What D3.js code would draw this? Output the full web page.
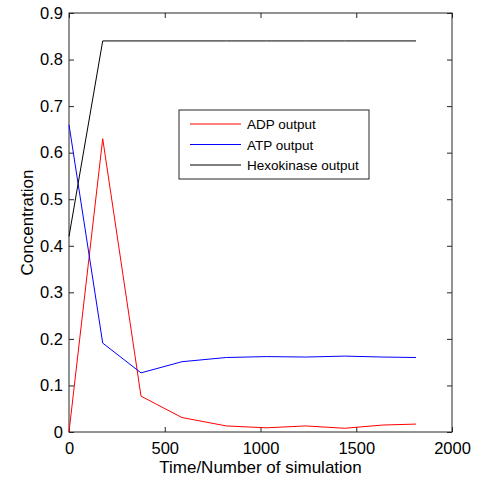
<!DOCTYPE html>
<html>
<head>
<meta charset="utf-8">
<script src="https://cdn.jsdelivr.net/npm/d3@7"></script>
<style>
  body { margin: 0; background: #fff; }
  text { font-family: "Liberation Sans", Arial, sans-serif; }
</style>
</head>
<body>
<script>
// Chart data
var times = [0, 176, 376, 590, 822, 1030, 1236, 1440, 1640, 1812];
var adp = [0, 0.63, 0.077, 0.031, 0.013, 0.009, 0.013, 0.008, 0.015, 0.017];
var atp = [0.66, 0.191, 0.127, 0.151, 0.160, 0.162, 0.161, 0.163, 0.161, 0.160];
var hexokinase = [0.42, 0.84, 0.84, 0.84, 0.84, 0.84, 0.84, 0.84, 0.84, 0.84];

var seriesNames = ["ADP output", "ATP output", "Hexokinase output"];
var seriesColors = ["#ff0000", "#0000ff", "#000000"];
var xTicks = [0, 500, 1000, 1500, 2000];
var yTicks = [0, 0.1, 0.2, 0.3, 0.4, 0.5, 0.6, 0.7, 0.8, 0.9];

var svgWidth = 486;
var svgHeight = 480;
var margin = { top: 13, right: 34, bottom: 48, left: 69 };
var width = svgWidth - margin.left - margin.right;
var height = svgHeight - margin.top - margin.bottom;

var svg = d3.select("body").append("svg")
  .attr("width", svgWidth)
  .attr("height", svgHeight);

var chartGroup = svg.append("g")
  .attr("transform", `translate(${margin.left}, ${margin.top})`);

var x = d3.scaleLinear().domain([0, 2000]).range([0, width]);
var y = d3.scaleLinear().domain([0, 0.9]).range([height, 0]);

// axes, ticks pointing inwards on all four sides
function styleAxis(g) {
  g.select(".domain").remove();
  g.selectAll("line").attr("stroke", "#262626");
  g.selectAll("text").attr("fill", "#000").style("font-size", "16.5px");
}

chartGroup.append("g")
  .attr("transform", `translate(0, ${height})`)
  .call(d3.axisBottom(x).tickValues(xTicks).tickSizeInner(-5).tickSizeOuter(0).tickPadding(10).tickFormat(d3.format("d")))
  .call(styleAxis);

chartGroup.append("g")
  .call(d3.axisTop(x).tickValues(xTicks).tickSizeInner(-5).tickSizeOuter(0).tickFormat(""))
  .call(styleAxis);

chartGroup.append("g")
  .call(d3.axisLeft(y).tickValues(yTicks).tickSizeInner(-5).tickSizeOuter(0).tickPadding(6).tickFormat(d => d === 0 ? "0" : d3.format(".1f")(d)))
  .call(styleAxis);

chartGroup.append("g")
  .attr("transform", `translate(${width}, 0)`)
  .call(d3.axisRight(y).tickValues(yTicks).tickSizeInner(-5).tickSizeOuter(0).tickFormat(""))
  .call(styleAxis);

chartGroup.append("rect")
  .attr("width", width)
  .attr("height", height)
  .attr("fill", "none")
  .attr("stroke", "#262626")
  .attr("stroke-width", 1);

// lines
var allSeries = [adp, atp, hexokinase];
var line = d3.line()
  .x((d, i) => x(times[i]))
  .y(d => y(d));

chartGroup.selectAll(".series")
  .data(allSeries)
  .enter()
  .append("path")
  .attr("class", "series")
  .attr("d", d => line(d))
  .attr("fill", "none")
  .attr("stroke", (d, i) => seriesColors[i])
  .attr("stroke-width", 1);

// legend
var legend = svg.append("g").attr("transform", "translate(179, 110)");
legend.append("rect")
  .attr("width", 190)
  .attr("height", 69)
  .attr("fill", "#fff")
  .attr("stroke", "#262626");

var rows = legend.selectAll(".row")
  .data(seriesNames)
  .enter()
  .append("g")
  .attr("transform", (d, i) => `translate(0, ${14 + i * 20.5})`);

rows.append("line")
  .attr("x1", 11).attr("x2", 62)
  .attr("stroke", (d, i) => seriesColors[i]);

rows.append("text")
  .attr("x", 68)
  .attr("y", 5)
  .style("font-size", "13.5px")
  .text(d => d);

// axis titles
svg.append("text")
  .attr("x", margin.left + width / 2)
  .attr("y", 473)
  .attr("text-anchor", "middle")
  .style("font-size", "17px")
  .text("Time/Number of simulation");

svg.append("text")
  .attr("transform", `translate(33, ${margin.top + height / 2}) rotate(-90)`)
  .attr("text-anchor", "middle")
  .style("font-size", "17px")
  .text("Concentration");
</script>
</body>
</html>
